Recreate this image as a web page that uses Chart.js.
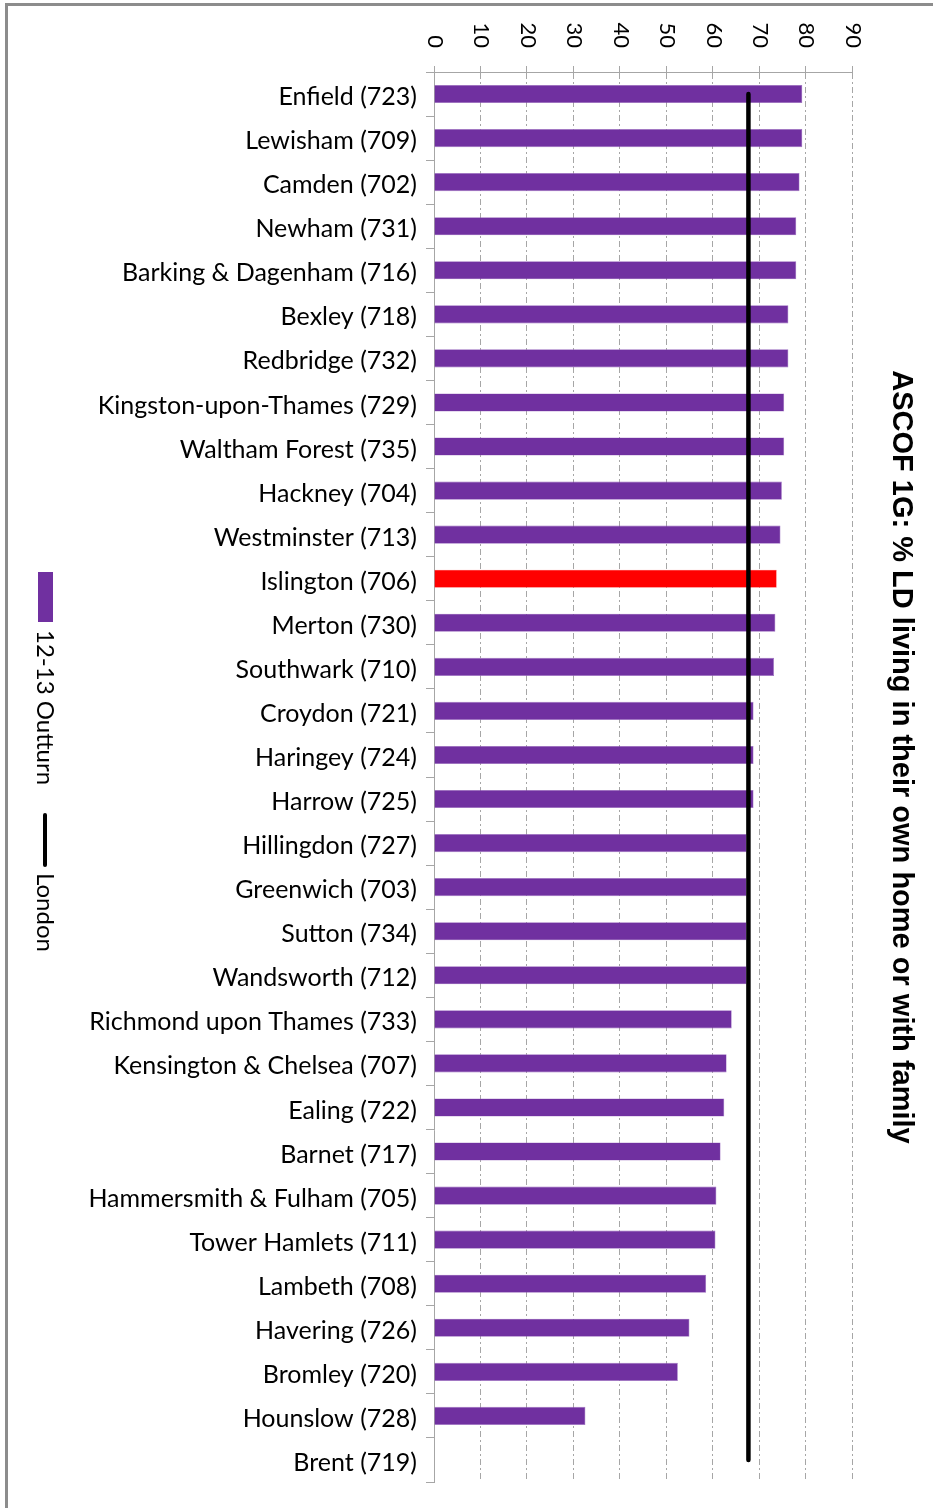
<!DOCTYPE html>
<html><head><meta charset="utf-8">
<script src="https://cdn.jsdelivr.net/npm/chart.js@4.4.1/dist/chart.umd.min.js"></script>
<style>html,body{margin:0;padding:0;background:#fff;} #wrap{position:relative;width:933px;height:1508px;overflow:hidden;}</style>
</head><body><div id="wrap"><canvas id="c" width="933" height="1508"></canvas></div>
<script>
const categories = ['Enfield (723)','Lewisham (709)','Camden (702)','Newham (731)','Barking & Dagenham (716)','Bexley (718)','Redbridge (732)','Kingston-upon-Thames (729)','Waltham Forest (735)','Hackney (704)','Westminster (713)','Islington (706)','Merton (730)','Southwark (710)','Croydon (721)','Haringey (724)','Harrow (725)','Hillingdon (727)','Greenwich (703)','Sutton (734)','Wandsworth (712)','Richmond upon Thames (733)','Kensington & Chelsea (707)','Ealing (722)','Barnet (717)','Hammersmith & Fulham (705)','Tower Hamlets (711)','Lambeth (708)','Havering (726)','Bromley (720)','Hounslow (728)','Brent (719)'];
const outturn = [79.3,79.3,78.7,78.0,78.0,76.3,76.3,75.4,75.4,74.9,74.6,73.8,73.5,73.2,68.8,68.8,68.8,67.3,67.3,67.3,67.3,64.1,63.0,62.5,61.7,60.8,60.6,58.6,55.0,52.5,32.6,null];
const london = [67.7,67.7,67.7,67.7,67.7,67.7,67.7,67.7,67.7,67.7,67.7,67.7,67.7,67.7,67.7,67.7,67.7,67.7,67.7,67.7,67.7,67.7,67.7,67.7,67.7,67.7,67.7,67.7,67.7,67.7,67.7,67.7];
const xTickValues = [0,10,20,30,40,50,60,70,80,90];
const highlighted = 'Islington (706)';
const seriesNames = ['12-13 Outturn','London'];
const titleText = 'ASCOF 1G: % LD living in their own home or with family';

const PURPLE = '#7030A0', RED = '#FF0000', GRID = '#a6a6a6';
const LABEL_FONT = 'Lato';

const decor = {
  id: 'decor',
  beforeDraw(chart) {
    const ctx = chart.ctx;
    ctx.save();
    ctx.fillStyle = '#fff';
    ctx.fillRect(0, 0, chart.width, chart.height);
    ctx.fillStyle = '#8c8c8c';
    ctx.fillRect(5, 3, chart.width, 3);
    ctx.fillRect(5, 3, 3, chart.height);
    ctx.restore();
  },
  afterDraw(chart) {
    const ctx = chart.ctx;
    const xs = chart.scales.x;
    ctx.save();
    // rotated tick labels (clockwise)
    ctx.fillStyle = '#000';
    ctx.font = '22px ' + LABEL_FONT;
    ctx.textAlign = 'right';
    ctx.textBaseline = 'middle';
    xTickValues.forEach(v => {
      const px = xs.getPixelForValue(v);
      ctx.save();
      ctx.translate(px + 1, 48);
      ctx.rotate(Math.PI / 2);
      ctx.fillText(String(v), 0, 0);
      ctx.restore();
    });
    // title
    ctx.save();
    ctx.font = 'bold 29px "Liberation Sans"';
    ctx.textAlign = 'center';
    ctx.textBaseline = 'alphabetic';
    ctx.translate(893, 757);
    ctx.rotate(Math.PI / 2);
    ctx.fillText(titleText, 0, 0);
    ctx.restore();
    // legend
    ctx.fillStyle = PURPLE;
    ctx.fillRect(38, 572, 15, 50);
    ctx.fillStyle = '#000';
    ctx.font = '24px ' + LABEL_FONT;
    ctx.textAlign = 'left';
    ctx.textBaseline = 'alphabetic';
    ctx.save();
    ctx.translate(37, 630);
    ctx.rotate(Math.PI / 2);
    ctx.fillText(seriesNames[0], 0, 0);
    ctx.restore();
    ctx.strokeStyle = '#000';
    ctx.lineWidth = 4;
    ctx.lineCap = 'round';
    ctx.beginPath();
    ctx.moveTo(45, 815);
    ctx.lineTo(45, 865);
    ctx.stroke();
    ctx.save();
    ctx.translate(37, 873);
    ctx.rotate(Math.PI / 2);
    ctx.fillText(seriesNames[1], 0, 0);
    ctx.restore();
    ctx.restore();
  }
};

new Chart(document.getElementById('c'), {
  data: {
    labels: categories,
    datasets: [
      {
        type: 'line', label: seriesNames[1], data: london, indexAxis: 'y',
        borderColor: '#000', borderWidth: 4.5, borderCapStyle: 'round',
        pointRadius: 0, fill: false, order: 0
      },
      {
        type: 'bar', label: seriesNames[0], data: outturn,
        backgroundColor: categories.map(c => c === highlighted ? RED : PURPLE),
        borderColor: categories.map(c => c === highlighted ? '#ff6a6a' : '#9a6cc0'),
        borderWidth: 0.6,
        categoryPercentage: 1, barPercentage: 0.41, order: 1
      }
    ]
  },
  options: {
    responsive: false, animation: false, devicePixelRatio: 1,
    indexAxis: 'y',
    layout: { padding: { left: 0, right: 81, top: 0, bottom: 26 } },
    plugins: { legend: { display: false }, title: { display: false }, tooltip: { enabled: false } },
    scales: {
      x: {
        position: 'top', min: 0, max: 90,
        ticks: { stepSize: 10, display: false },
        grid: { color: GRID, lineWidth: 1, tickLength: 6, tickColor: GRID },
        border: { display: true, color: GRID, width: 1, dash: [6, 3, 2, 3] },
        afterFit(s) { s.height = 72; }
      },
      y: {
        ticks: { font: { family: LABEL_FONT, size: 25 }, color: '#000', padding: 9, autoSkip: false, labelOffset: 3 },
        grid: { offset: true, drawOnChartArea: false, tickLength: 8, color: GRID },
        border: { color: GRID, width: 1 },
        afterFit(s) { s.width = 434; }
      }
    }
  },
  plugins: [decor]
});
</script>
</body></html>
